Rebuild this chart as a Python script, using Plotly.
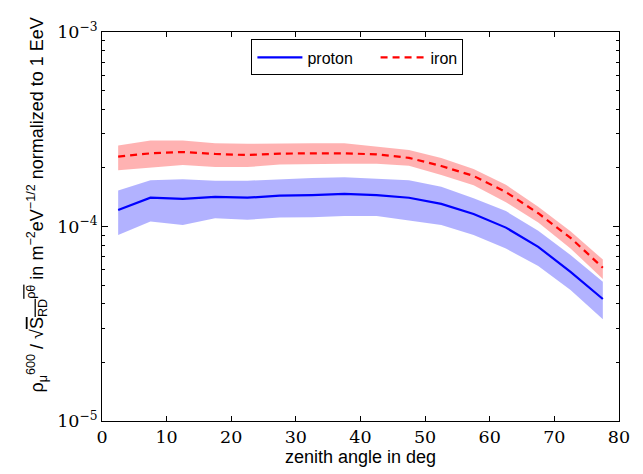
import plotly.graph_objects as go

zenith = [2.5, 7.5, 12.5, 17.5, 22.5, 27.5, 32.5, 37.5, 42.5, 47.5, 52.5, 57.5, 62.5, 67.5, 72.5, 77.5]

proton = [1.215e-4, 1.406e-4, 1.386e-4, 1.42e-4, 1.406e-4, 1.44e-4, 1.45e-4, 1.47e-4,
          1.45e-4, 1.406e-4, 1.307e-4, 1.16e-4, 9.87e-5, 7.86e-5, 5.84e-5, 4.24e-5]
proton_hi = [1.53e-4, 1.73e-4, 1.75e-4, 1.72e-4, 1.72e-4, 1.75e-4, 1.775e-4, 1.79e-4,
             1.765e-4, 1.73e-4, 1.603e-4, 1.396e-4, 1.2e-4, 9.5e-5, 7.13e-5, 5.2e-5]
proton_lo = [9.03e-5, 1.062e-4, 1.018e-4, 1.104e-4, 1.082e-4, 1.113e-4, 1.117e-4, 1.133e-4,
             1.133e-4, 1.074e-4, 1.018e-4, 9.05e-5, 7.7e-5, 6.26e-5, 4.72e-5, 3.34e-5]

iron = [2.287e-4, 2.377e-4, 2.415e-4, 2.36e-4, 2.33e-4, 2.37e-4, 2.377e-4, 2.377e-4,
        2.35e-4, 2.254e-4, 2.047e-4, 1.82e-4, 1.503e-4, 1.17e-4, 8.75e-5, 6.14e-5]
iron_hi = [2.61e-4, 2.77e-4, 2.77e-4, 2.68e-4, 2.66e-4, 2.68e-4, 2.68e-4, 2.68e-4,
           2.58e-4, 2.47e-4, 2.25e-4, 1.975e-4, 1.64e-4, 1.263e-4, 9.46e-5, 6.76e-5]
iron_lo = [1.946e-4, 2.005e-4, 2.07e-4, 2.02e-4, 2.02e-4, 2.085e-4, 2.1e-4, 2.1e-4,
           2.1e-4, 2.05e-4, 1.84e-4, 1.63e-4, 1.333e-4, 1.05e-4, 7.71e-5, 5.37e-5]

x_ticks = [0, 10, 20, 30, 40, 50, 60, 70, 80]
y_ticks = [1e-5, 1e-4, 1e-3]
y_ticklabels = ["10<sup>−5</sup>", "10<sup>−4</sup>", "10<sup>−3</sup>"]
y_minor = [m * 10 ** e for e in (-5, -4) for m in range(2, 10)]

fig = go.Figure()

fig.add_trace(go.Scatter(x=zenith + zenith[::-1], y=proton_hi + proton_lo[::-1],
                         fill="toself", fillcolor="rgba(0,0,255,0.3)", line=dict(width=0),
                         mode="lines", showlegend=False, hoverinfo="skip"))
fig.add_trace(go.Scatter(x=zenith + zenith[::-1], y=iron_hi + iron_lo[::-1],
                         fill="toself", fillcolor="rgba(255,0,0,0.3)", line=dict(width=0),
                         mode="lines", showlegend=False, hoverinfo="skip"))
fig.add_trace(go.Scatter(x=zenith, y=proton, mode="lines", name="proton\u00a0\u00a0\u00a0\u00a0",
                         line=dict(color="#0000ff", width=2.2)))
fig.add_trace(go.Scatter(x=zenith, y=iron, mode="lines", name="iron",
                         line=dict(color="#ff0000", width=2.2, dash="7px,5px")))

tickfont = dict(family="DejaVu Serif", size=17.5, color="black")
titlefont = dict(family="Liberation Sans", size=18, color="black")

ol = "<span style='text-decoration:overline'>"
ytitle = ("ρ<sub>μ</sub><sup>600</sup> / √" + ol + "S</span><sub>" + ol + "RD</span></sub><sup>"
          + ol + "ρθ</span></sup> in m<sup>−2</sup>eV<sup>−1/2</sup> normalized to 1 EeV")

fig.add_annotation(text=ytitle, textangle=-90, xref="paper", yref="paper",
                   x=-0.127, y=0.555, xanchor="center", yanchor="middle",
                   showarrow=False, font=titlefont)

# the page body adds an 8px margin, so the figure is shrunk by that offset
fig.update_layout(
    width=635, height=466,
    margin=dict(l=94, r=24, t=17, b=51),
    plot_bgcolor="white", paper_bgcolor="white",
    showlegend=True,
    legend=dict(orientation="h", x=0.289, y=0.981, xanchor="left", yanchor="top",
                bgcolor="white", bordercolor="black", borderwidth=1,
                font=dict(family="Liberation Sans", size=16, color="black"),
                itemwidth=45, tracegroupgap=0),
    xaxis=dict(range=[0, 80], tickvals=x_ticks, ticks="inside", ticklen=5,
               tickcolor="black", showline=True, linecolor="black", linewidth=1,
               mirror="allticks", showgrid=False, zeroline=False,
               tickfont=tickfont,
               title=dict(text="zenith angle in deg", font=titlefont, standoff=2)),
    yaxis=dict(type="log", range=[-5, -3], tickvals=y_ticks, ticktext=y_ticklabels,
               ticks="inside", ticklen=6, tickcolor="black", showline=True,
               linecolor="black", linewidth=1, mirror="allticks", showgrid=False,
               zeroline=False, tickfont=tickfont,
               minor=dict(tickvals=y_minor, ticks="inside", ticklen=3, tickcolor="black",
                          showgrid=False)),
)

fig.write_html("out.html")
